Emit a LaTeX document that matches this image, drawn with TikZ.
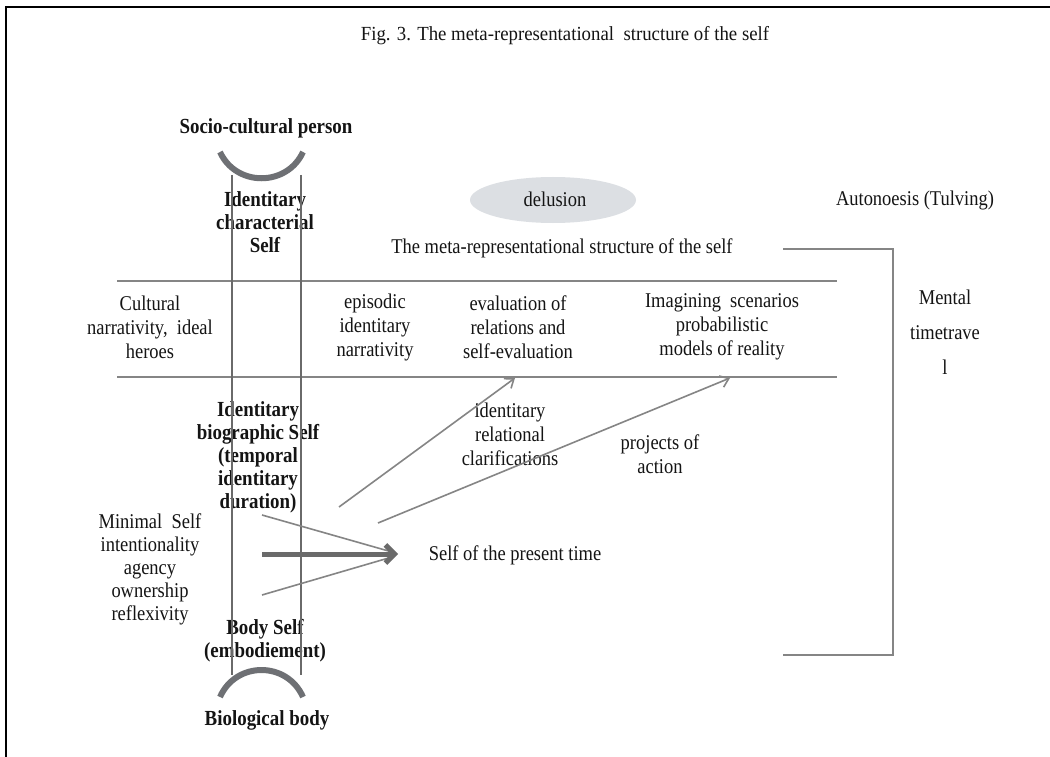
\documentclass[tikz,border=0pt]{standalone}
\usepackage{fontspec}
\setmainfont{Liberation Serif}[FakeStretch=0.88]
\newfontfamily\titlefont{Liberation Serif}[FakeStretch=0.94]
\usetikzlibrary{arrows.meta,shapes.geometric}
\definecolor{txt}{HTML}{141414}
\definecolor{lgray}{HTML}{858585}
\definecolor{dgray}{HTML}{6A6A6A}
\definecolor{arcgray}{HTML}{6E7074}
\definecolor{elfill}{HTML}{DCDFE3}
\tikzset{
  plain/.style={text=txt, align=center, inner sep=0pt, font=\fontsize{21}{24}\selectfont},
  boldtxt/.style={text=txt, align=center, inner sep=0pt, font=\fontsize{21.5}{23}\selectfont\bfseries},
  titletxt/.style={text=txt, align=center, inner sep=0pt, font=\titlefont\fontsize{20}{24}\selectfont},
  hline/.style={draw=lgray, line width=2pt},
  vline/.style={draw=dgray, line width=2.5pt},
  arcline/.style={draw=arcgray, line width=6pt},
  thinarrow/.style={draw=lgray, line width=1.6pt, -{Straight Barb[length=8pt,width=12pt]}},
  thinline/.style={draw=lgray, line width=1.6pt},
  thickarrow/.style={draw=dgray, line width=5pt, -{Straight Barb[length=9pt,width=18pt]}},
  frameline/.style={draw=black, line width=2.5pt}
}
\begin{document}
\begin{tikzpicture}[x=1pt,y=-1pt]
\useasboundingbox (0,0) rectangle (1050,757);
\fill[white] (0,0) rectangle (1050,757);
% frame
\coordinate (fTL) at (6,7);
\coordinate (fTR) at (1050,7);
\coordinate (fBL) at (6,757);
\draw[frameline] (fTR) -- (fTL) -- (fBL);

% title
\node[titletxt] (title) at (565,36) {Fig. 3. The meta-representational~ structure of the self};

% top part
\node[boldtxt] (soc) at (266,128) {Socio-cultural person};
\node[boldtxt] (char) at (265,222) {Identitary\\characterial\\Self};
\node[ellipse, fill=elfill, minimum width=166pt, minimum height=46pt, inner sep=0pt] (delel) at (553,200) {};
\node[plain] (delusion) at (555,199) {delusion};
\node[plain] (meta) at (562,248) {The meta-representational structure of the self};
\node[plain] (auto) at (915,200) {Autonoesis (Tulving)};
\node[text=txt, align=center, inner sep=0pt, font=\fontsize{21}{35}\selectfont] (mental) at (945,332) {Mental\\timetrave\\l};

% row
\node[plain] (cult) at (150,327) {Cultural\\narrativity,~ ideal\\heroes};
\node[plain] (epis) at (375,327) {episodic\\identitary\\narrativity};
\node[plain] (eval) at (518,327) {evaluation of\\relations and\\self-evaluation};
\node[plain] (imag) at (722,327) {Imagining~ scenarios\\probabilistic\\models of reality};

% lower part
\node[boldtxt] (bio) at (258,457) {Identitary\\biographic Self\\(temporal\\identitary\\duration)};
\node[plain] (ident) at (510,434) {identitary\\relational\\clarifications};
\node[plain] (proj) at (660,454) {projects of\\action};
\node[plain] (present) at (515,555) {Self of the present time};
\node[text=txt, align=center, inner sep=0pt, font=\fontsize{21}{23}\selectfont] (minimal) at (150,569) {Minimal~ Self\\intentionality\\agency\\ownership\\reflexivity};
\node[boldtxt] (body) at (265,641) {Body Self\\(embodiement)};
\node[boldtxt] (biol) at (267,720) {Biological body};

% horizontal lines
\coordinate (h1a) at (117,281); \coordinate (h1b) at (837,281);
\coordinate (h2a) at (117,377); \coordinate (h2b) at (837,377);
\draw[hline] (h1a) -- (h1b);
\draw[hline] (h2a) -- (h2b);

% bracket
\coordinate (bA) at (783,249); \coordinate (bB) at (893,249);
\coordinate (bC) at (893,655); \coordinate (bD) at (783,655);
\draw[hline] (bA) -- (bB) -- (bC) -- (bD);

% arcs
\coordinate (a1s) at (220,152); \coordinate (a1e) at (303,152);
\draw[arcline] (a1s) .. controls (236,187) and (287,187) .. (a1e);
\coordinate (a2s) at (220,697); \coordinate (a2e) at (303,697);
\draw[arcline] (a2s) .. controls (236,661) and (287,661) .. (a2e);

% vertical lines
\coordinate (v1t) at (232,175); \coordinate (v1b) at (232,675);
\coordinate (v2t) at (301,175); \coordinate (v2b) at (301,675);
\draw[vline] (v1t) -- (v1b);
\draw[vline] (v2t) -- (v2b);

% arrows to upper row
\coordinate (r1s) at (339,507); \coordinate (r1e) at (515,378);
\coordinate (r2s) at (378,523); \coordinate (r2e) at (730,378);
\draw[thinarrow] (r1s) -- (r1e);
\draw[thinarrow] (r2s) -- (r2e);

% converging arrows
\coordinate (m0) at (262,554); \coordinate (tip) at (398,554);
\coordinate (m1) at (262,515); \coordinate (m2) at (262,595);
\coordinate (t1) at (392,552); \coordinate (t2) at (392,557);
\draw[thinline] (m1) -- (t1);
\draw[thinline] (m2) -- (t2);
\draw[thickarrow] (m0) -- (tip);
\end{tikzpicture}
\end{document}
